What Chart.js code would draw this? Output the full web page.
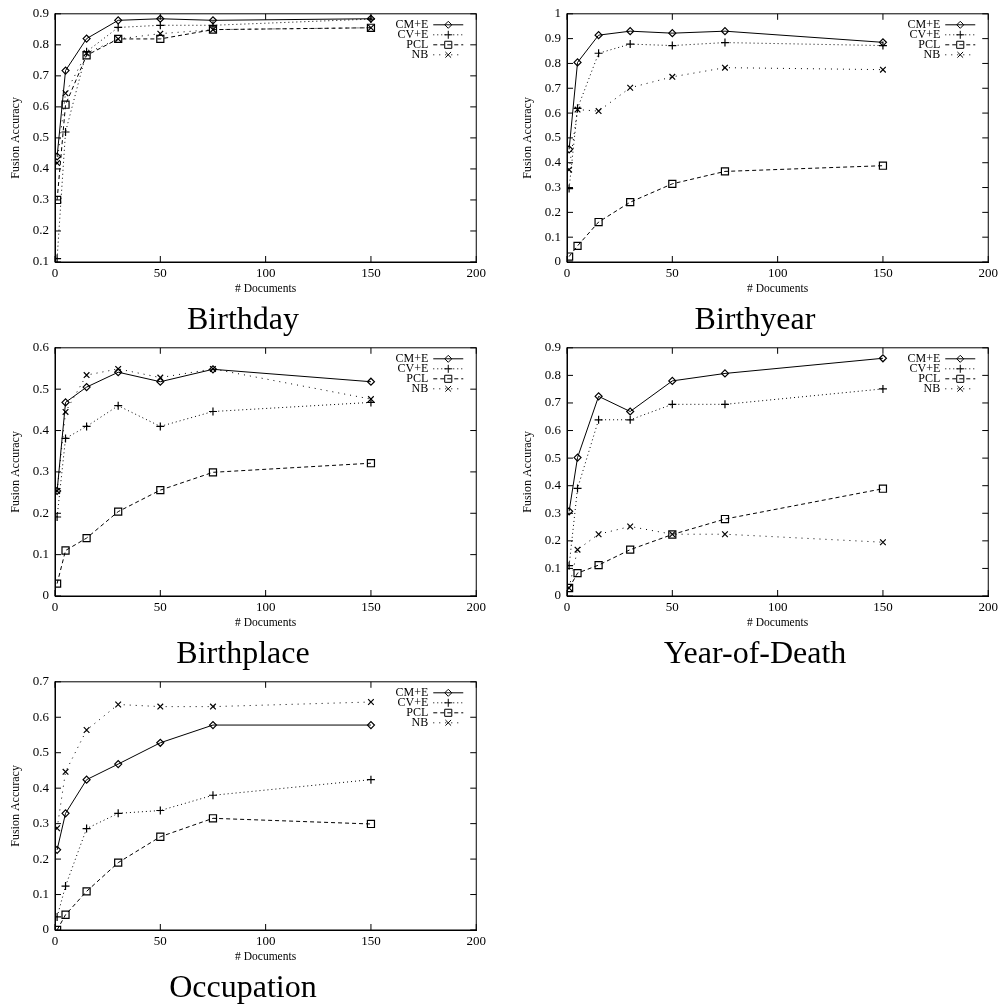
<!DOCTYPE html>
<html>
<head>
<meta charset="utf-8">
<script src="https://cdn.jsdelivr.net/npm/chart.js@4.4.0/dist/chart.umd.min.js"></script>
<style>
  body { margin: 0; background: #fff; width: 1005px; height: 1006px; overflow: hidden; position: relative; }
  canvas { position: absolute; }
</style>
</head>
<body>
<canvas id="c0" width="490" height="340" style="left:0;top:0"></canvas>
<canvas id="c1" width="490" height="340" style="left:512px;top:0"></canvas>
<canvas id="c2" width="490" height="340" style="left:0;top:334px"></canvas>
<canvas id="c3" width="490" height="340" style="left:512px;top:334px"></canvas>
<canvas id="c4" width="490" height="340" style="left:0;top:668px"></canvas>
<script>
// x values (number of documents)
const docCounts = [1, 5, 15, 30, 50, 75, 150];
const seriesNames = ['CM+E', 'CV+E', 'PCL', 'NB'];
const panelTitles = ['Birthday', 'Birthyear', 'Birthplace', 'Year-of-Death', 'Occupation'];
const yMins = [0.1, 0, 0, 0, 0];
const yMaxs = [0.9, 1, 0.6, 0.9, 0.7];

// Birthday
const birthdayCM  = [0.44, 0.717, 0.82, 0.879, 0.884, 0.879, 0.884];
const birthdayCV  = [0.111, 0.519, 0.778, 0.856, 0.863, 0.863, 0.883];
const birthdayPCL = [0.30, 0.607, 0.766, 0.819, 0.819, 0.849, 0.855];
const birthdayNB  = [0.419, 0.644, 0.773, 0.819, 0.836, 0.849, 0.855];
// Birthyear
const birthyearCM  = [0.454, 0.804, 0.914, 0.930, 0.922, 0.930, 0.885];
const birthyearCV  = [0.296, 0.619, 0.841, 0.878, 0.872, 0.884, 0.872];
const birthyearPCL = [0.022, 0.065, 0.161, 0.241, 0.315, 0.365, 0.388];
const birthyearNB  = [0.372, 0.614, 0.608, 0.702, 0.746, 0.783, 0.775];
// Birthplace
const birthplaceCM  = [0.254, 0.468, 0.505, 0.541, 0.518, 0.548, 0.518];
const birthplaceCV  = [0.191, 0.381, 0.410, 0.460, 0.410, 0.446, 0.468];
const birthplacePCL = [0.030, 0.110, 0.140, 0.204, 0.256, 0.299, 0.321];
const birthplaceNB  = [0.254, 0.445, 0.534, 0.549, 0.528, 0.549, 0.476];
// Year-of-Death
const deathCM  = [0.307, 0.502, 0.724, 0.669, 0.780, 0.807, 0.862];
const deathCV  = [0.110, 0.390, 0.639, 0.639, 0.695, 0.695, 0.751];
const deathPCL = [0.029, 0.083, 0.112, 0.168, 0.223, 0.279, 0.389];
const deathNB  = [0.029, 0.168, 0.224, 0.252, 0.224, 0.224, 0.195];
// Occupation
const occupationCM  = [0.226, 0.329, 0.424, 0.468, 0.528, 0.578, 0.578];
const occupationCV  = [0.037, 0.124, 0.286, 0.329, 0.337, 0.380, 0.424];
const occupationPCL = [0.0, 0.043, 0.109, 0.190, 0.263, 0.315, 0.299];
const occupationNB  = [0.287, 0.446, 0.564, 0.636, 0.630, 0.630, 0.643];

const panelData = [
  [birthdayCM, birthdayCV, birthdayPCL, birthdayNB],
  [birthyearCM, birthyearCV, birthyearPCL, birthyearNB],
  [birthplaceCM, birthplaceCV, birthplacePCL, birthplaceNB],
  [deathCM, deathCV, deathPCL, deathNB],
  [occupationCM, occupationCV, occupationPCL, occupationNB]
];

const serif = "'Liberation Serif', 'Times New Roman', serif";

// gnuplot-ish line / marker styles per series
const seriesStyles = [
  { dash: [], pointStyle: 'rectRot', radius: 3.5 },
  { dash: [1, 3], pointStyle: 'cross', radius: 4 },
  { dash: [4, 3], pointStyle: 'rect', radius: 5 },
  { dash: [1, 5], pointStyle: 'crossRot', radius: 4 }
];

function drawMarker(ctx, style, radius, x, y) {
  ctx.setLineDash([]);
  if (Chart.helpers && Chart.helpers.drawPoint) {
    Chart.helpers.drawPoint(ctx, { pointStyle: style, radius: radius, rotation: 0, borderWidth: 1 }, x, y);
  }
}

// frame + inward ticks on all four sides
const framePlugin = {
  id: 'frame',
  afterDraw(chart) {
    const ctx = chart.ctx;
    const a = chart.chartArea;
    const xs = chart.scales.x, ys = chart.scales.y;
    ctx.save();
    ctx.strokeStyle = '#000';
    ctx.lineWidth = 1;
    ctx.setLineDash([]);
    ctx.strokeRect(a.left, a.top, a.right - a.left, a.bottom - a.top);
    ctx.beginPath();
    xs.ticks.forEach(t => {
      const px = xs.getPixelForValue(t.value);
      ctx.moveTo(px, a.bottom); ctx.lineTo(px, a.bottom - 6);
      ctx.moveTo(px, a.top); ctx.lineTo(px, a.top + 6);
    });
    ys.ticks.forEach(t => {
      const py = ys.getPixelForValue(t.value);
      ctx.moveTo(a.left, py); ctx.lineTo(a.left + 6, py);
      ctx.moveTo(a.right, py); ctx.lineTo(a.right - 6, py);
    });
    ctx.stroke();
    ctx.restore();
  }
};

// key in the top right corner, text right aligned then line sample
const keyPlugin = {
  id: 'key',
  afterDraw(chart) {
    const ctx = chart.ctx;
    const a = chart.chartArea;
    ctx.save();
    ctx.font = '12px ' + serif;
    ctx.textAlign = 'right';
    ctx.textBaseline = 'middle';
    ctx.fillStyle = '#000';
    ctx.strokeStyle = '#000';
    ctx.lineWidth = 1;
    chart.data.datasets.forEach((ds, i) => {
      const y = a.top + 11 + i * 10;
      ctx.fillText(ds.label, a.right - 48, y);
      ctx.setLineDash(ds.borderDash);
      ctx.beginPath();
      ctx.moveTo(a.right - 43, y);
      ctx.lineTo(a.right - 13, y);
      ctx.stroke();
      ctx.fillStyle = 'rgba(0,0,0,0)';
      drawMarker(ctx, ds.pointStyle, ds.pointRadius, a.right - 28, y);
      ctx.fillStyle = '#000';
    });
    ctx.restore();
  }
};

function makePanel(idx) {
  const ctx = document.getElementById('c' + idx).getContext('2d');
  const datasets = panelData[idx].map((vals, i) => ({
    label: seriesNames[i],
    data: docCounts.map((d, k) => ({ x: d, y: vals[k] })),
    borderColor: '#000',
    borderWidth: 1,
    borderDash: seriesStyles[i].dash,
    backgroundColor: 'rgba(0,0,0,0)',
    pointStyle: seriesStyles[i].pointStyle,
    pointRadius: seriesStyles[i].radius,
    pointBorderColor: '#000',
    pointBackgroundColor: 'rgba(0,0,0,0)',
    pointBorderWidth: 1.2,
    tension: 0,
    fill: false
  }));

  return new Chart(ctx, {
    type: 'line',
    data: { datasets: datasets },
    plugins: [framePlugin, keyPlugin],
    options: {
      responsive: false,
      animation: false,
      devicePixelRatio: 1,
      layout: { padding: { left: 8, right: 12, top: 10, bottom: 0 } },
      plugins: {
        legend: { display: false },
        tooltip: { enabled: false },
        title: {
          display: true,
          position: 'bottom',
          text: panelTitles[idx],
          color: '#000',
          font: { family: serif, size: 32, weight: 'normal', lineHeight: 1.2 },
          padding: { top: 0, bottom: 0 }
        }
      },
      scales: {
        x: {
          type: 'linear',
          min: 0,
          max: 200,
          afterFit: s => { s.height = 39.6; },
          grid: { display: false, drawTicks: false, tickLength: 0 },
          border: { display: true, color: '#000' },
          ticks: {
            stepSize: 50,
            padding: 4,
            color: '#000',
            font: { family: serif, size: 13 }
          },
          title: {
            display: true,
            text: '# Documents',
            color: '#000',
            font: { family: serif, size: 11.5, lineHeight: 1.2 },
            padding: { top: 0, bottom: 6 }
          }
        },
        y: {
          min: yMins[idx],
          max: yMaxs[idx],
          afterFit: s => { s.width = 47; },
          grid: { display: false, drawTicks: false, tickLength: 0 },
          border: { display: true, color: '#000' },
          ticks: {
            stepSize: 0.1,
            padding: 6,
            color: '#000',
            font: { family: serif, size: 13 },
            callback: v => String(Math.round(v * 10) / 10)
          },
          title: {
            display: true,
            text: 'Fusion Accuracy',
            color: '#000',
            font: { family: serif, size: 12, lineHeight: 1.2 },
            padding: { top: 1, bottom: 0 }
          }
        }
      }
    }
  });
}

for (let i = 0; i < panelTitles.length; i++) {
  makePanel(i);
}
</script>
</body>
</html>
